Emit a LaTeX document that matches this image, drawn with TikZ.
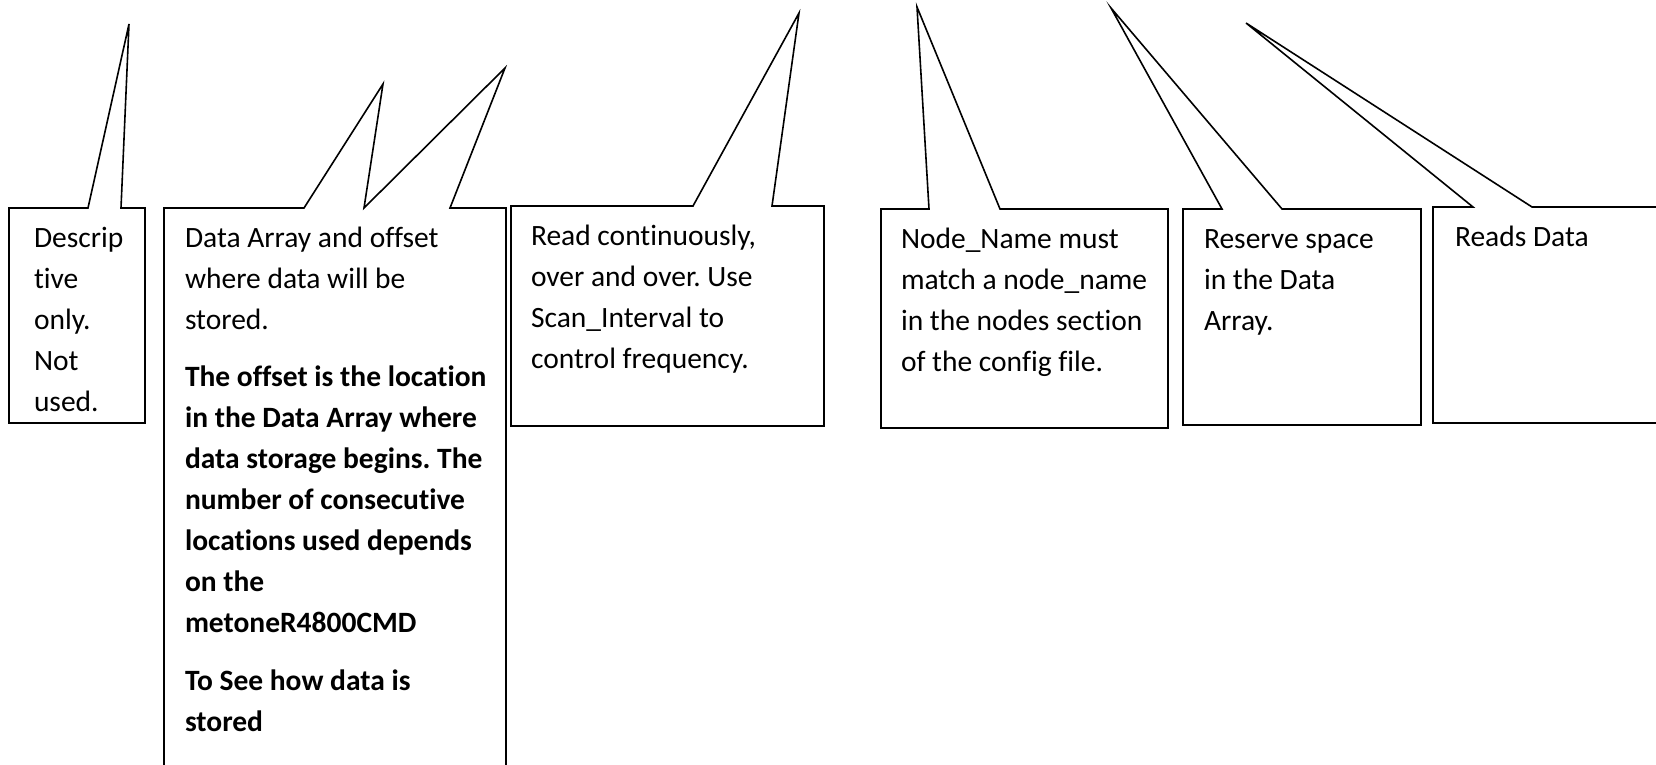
\documentclass[tikz,border=0pt]{standalone}
\usepackage{fontspec}
\setmainfont{Carlito}[Ligatures=NoCommon]
\frenchspacing

\begin{document}
\begin{tikzpicture}
  [x=1pt,y=-1pt,line width=1.6pt,line join=miter,
   every node/.style={inner sep=0,outer sep=0},
   box/.style={anchor=north west,minimum height=216pt},
   note/.style={anchor=north west,align=left,font=\fontsize{29.5}{41}\selectfont}]
  \path[use as bounding box,clip] (0,0) rectangle (1656,765);

  % the boxes
  \node[box,minimum width=136pt,minimum height=215pt] (desc) at (9,208) {};
  \node[box,minimum width=342pt,minimum height=600pt] (arr) at (164,208) {};
  \node[box,minimum width=313pt,minimum height=220pt] (scan) at (511,206) {};
  \node[box,minimum width=287pt,minimum height=219pt] (nname) at (881,209) {};
  \node[box,minimum width=238pt] (resv) at (1183,209) {};
  \node[box,minimum width=280pt] (rdat) at (1433,207) {};

  % where the pointers end
  \coordinate (t1) at (129,24);
  \coordinate (t2) at (383,84);
  \coordinate (t3) at (505,68);
  \coordinate (t4) at (799,13);
  \coordinate (t5) at (917,7);
  \coordinate (t6) at (1111,8);
  \coordinate (t7) at (1246,23);

  % outlines with their pointers
  \draw (desc.north west) -- ([xshift=79pt]desc.north west) -- (t1)
    -- ([xshift=112pt]desc.north west) -- (desc.north east) |- (desc.south west) -- cycle;
  \draw (arr.north west) -- ([xshift=140pt]arr.north west) -- (t2)
    -- ([xshift=200pt]arr.north west) -- (t3)
    -- ([xshift=286pt]arr.north west) -- (arr.north east) |- (arr.south west) -- cycle;
  \draw (scan.north west) -- ([xshift=182pt]scan.north west) -- (t4)
    -- ([xshift=261pt]scan.north west) -- (scan.north east) |- (scan.south west) -- cycle;
  \draw (nname.north west) -- ([xshift=48pt]nname.north west) -- (t5)
    -- ([xshift=119pt]nname.north west) -- (nname.north east) |- (nname.south west) -- cycle;
  \draw (resv.north west) -- ([xshift=39pt]resv.north west) -- (t6)
    -- ([xshift=99pt]resv.north west) -- (resv.north east) |- (resv.south west) -- cycle;
  \draw (rdat.north west) -- ([xshift=40pt]rdat.north west) -- (t7)
    -- ([xshift=99pt]rdat.north west) -- (rdat.north east) |- (rdat.south west) -- cycle;

  % texts
  \node[note] (desctxt) at ([xshift=25pt,yshift=-11pt]desc.north west)
    {\strut Descrip\\tive\\only.\\Not\\used.};
  \node[note] (arrtxt) at ([xshift=21pt,yshift=-11pt]arr.north west)
    {\strut Data Array and offset\\where data will be\\stored.\\[16pt]
     \textbf{The offset is the location}\\\textbf{in the Data Array where}\\
     \textbf{data storage begins. The}\\\textbf{number of consecutive}\\
     \textbf{locations used depends}\\\textbf{on the}\\\textbf{metoneR4800CMD}\\[17pt]
     \textbf{To See how data is}\\\textbf{stored}};
  \node[note] (scantxt) at ([xshift=20pt,yshift=-11pt]scan.north west)
    {\strut Read continuously,\\over and over. Use\\Scan\_Interval to\\control frequency.};
  \node[note] (nnametxt) at ([xshift=20pt,yshift=-11pt]nname.north west)
    {\strut Node\_Name must\\match a node\_name\\in the nodes section\\of the config file.};
  \node[note] (resvtxt) at ([xshift=21pt,yshift=-11pt]resv.north west)
    {\strut Reserve space\\in the Data\\Array.};
  \node[note] (rdattxt) at ([xshift=22pt,yshift=-11pt]rdat.north west)
    {\strut Reads Data};
\end{tikzpicture}
\end{document}
